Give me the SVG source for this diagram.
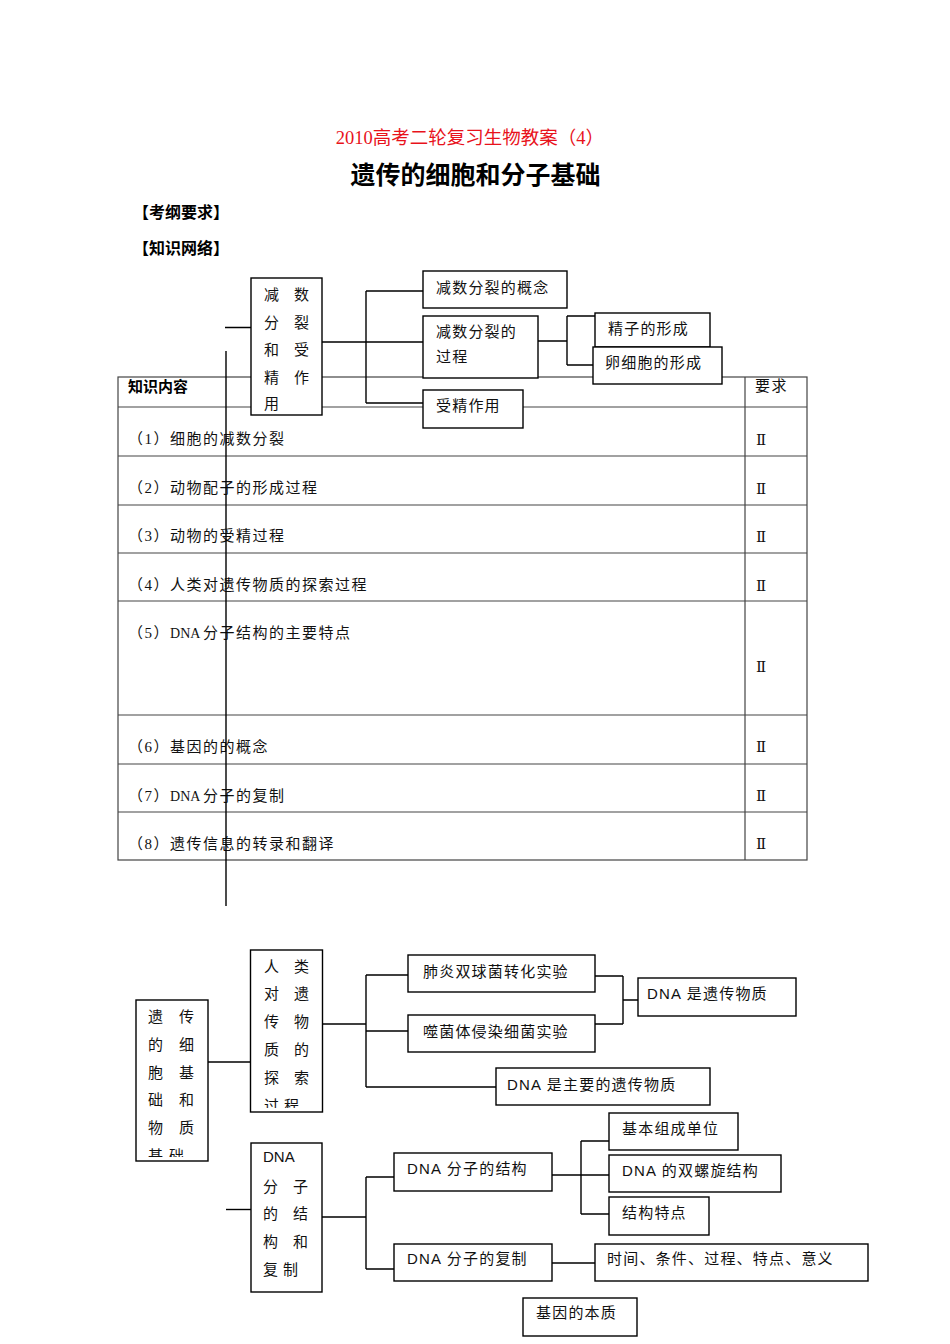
<svg xmlns="http://www.w3.org/2000/svg" width="950" height="1344" viewBox="0 0 950 1344">
<style>
.bg{fill:#fff}
.box{fill:#fff;stroke:#000;stroke-width:1.4}
.cn{fill:none;stroke:#000;stroke-width:1.4}
.tb{fill:none;stroke:#444;stroke-width:1.2}
.t{font-family:"Liberation Serif","Noto Sans CJK SC",serif;font-size:15px;letter-spacing:1.5px;fill:#111}
.r{font-family:"DejaVu Serif","Liberation Serif",serif;font-size:15px;fill:#111}
.d{letter-spacing:0;font-size:14px}
.s{font-family:"Liberation Sans","Noto Sans CJK SC",sans-serif;font-size:15px;letter-spacing:1.2px;fill:#111}
.v{font-family:"Liberation Sans","Noto Sans CJK SC",sans-serif;font-size:15px;fill:#111}
.h{font-family:"Liberation Sans","Noto Sans CJK SC",sans-serif;font-weight:bold;fill:#000}
</style>
<defs>
<clipPath id="c7"><rect x="136" y="1000" width="72" height="157"/></clipPath>
<clipPath id="c8"><rect x="250" y="950" width="73" height="158"/></clipPath>
</defs>
<rect class="bg" x="0" y="0" width="950" height="1344"/>

<g id="header">
<text x="470" y="144" text-anchor="middle" font-family="'Liberation Serif','Noto Sans CJK SC',serif" font-size="18.5" fill="#e8121b">2010高考二轮复习生物教案（4）</text>
<text class="h" x="475.5" y="184" text-anchor="middle" font-size="25">遗传的细胞和分子基础</text>
<text class="h" x="133" y="218" font-size="16">【考纲要求】</text>
<text class="h" x="133" y="254" font-size="16">【知识网络】</text>
</g>

<g id="table">
<rect class="tb" x="118" y="377" width="689" height="483"/>
<path class="tb" d="M745,377V860M118,407H807M118,456H807M118,505H807M118,553H807M118,601H807M118,715H807M118,764H807M118,812H807"/>
<text class="h" x="128" y="392" font-size="15">知识内容</text>
<text class="t" x="755" y="391">要求</text>
<text class="t" x="128" y="444">（1）细胞的减数分裂</text>
<text class="t" x="128" y="493">（2）动物配子的形成过程</text>
<text class="t" x="128" y="541">（3）动物的受精过程</text>
<text class="t" x="128" y="590">（4）人类对遗传物质的探索过程</text>
<text class="t" x="128" y="638">（5）<tspan class="d">DNA </tspan>分子结构的主要特点</text>
<text class="t" x="128" y="752">（6）基因的的概念</text>
<text class="t" x="128" y="801">（7）<tspan class="d">DNA </tspan>分子的复制</text>
<text class="t" x="128" y="849">（8）遗传信息的转录和翻译</text>
<text class="r" x="756" y="445">Ⅱ</text>
<text class="r" x="756" y="494">Ⅱ</text>
<text class="r" x="756" y="542">Ⅱ</text>
<text class="r" x="756" y="591">Ⅱ</text>
<text class="r" x="756" y="672">Ⅱ</text>
<text class="r" x="756" y="752">Ⅱ</text>
<text class="r" x="756" y="801">Ⅱ</text>
<text class="r" x="756" y="849">Ⅱ</text>
</g>

<g id="connectors">
<path class="cn" d="M225,327.5H251M226,351V906"/>
<path class="cn" d="M322,342H366M366,291V403M366,291H423M366,342H423M366,403H423"/>
<path class="cn" d="M538,341H567M567,316V365M567,316H595M567,365H593"/>
<path class="cn" d="M208,1062H251"/>
<path class="cn" d="M322,1024H366M366,975V1087M366,975H408M366,1031H408M366,1087H496"/>
<path class="cn" d="M595,976H623M595,1024H623M623,976V1024M623,1000H638"/>
<path class="cn" d="M226,1209.5H251"/>
<path class="cn" d="M322,1217H366M366,1177V1269M366,1177H394M366,1269H394"/>
<path class="cn" d="M552,1175H609M581,1141V1214M581,1141H609M581,1214H609"/>
<path class="cn" d="M552,1263H595"/>
</g>

<g id="n1">
<rect class="box" x="251" y="278" width="71" height="137"/>
<text class="v" x="264 294" y="300">减数</text>
<text class="v" x="264 294" y="328">分裂</text>
<text class="v" x="264 294" y="355">和受</text>
<text class="v" x="264 294" y="383">精作</text>
<text class="v" x="264" y="409">用</text>
</g>
<g id="n2"><rect class="box" x="423" y="271" width="144" height="37"/><text class="s" x="436" y="293">减数分裂的概念</text></g>
<g id="n3"><rect class="box" x="423" y="316" width="115" height="62"/><text class="s" x="436" y="337" letter-spacing="3">减数分裂的</text><text class="s" x="436" y="362">过程</text></g>
<g id="n4"><rect class="box" x="423" y="390" width="100" height="38"/><text class="s" x="436" y="411">受精作用</text></g>
<g id="n5"><rect class="box" x="595" y="313" width="115" height="34"/><text class="s" x="608" y="334">精子的形成</text></g>
<g id="n6"><rect class="box" x="593" y="347" width="129" height="37"/><text class="s" x="605" y="368">卵细胞的形成</text></g>

<g id="n7">
<rect class="box" x="136" y="1000" width="72" height="161"/>
<g clip-path="url(#c7)">
<text class="v" x="148 179" y="1022">遗传</text>
<text class="v" x="148 179" y="1050">的细</text>
<text class="v" x="148 179" y="1078">胞基</text>
<text class="v" x="148 179" y="1105">础和</text>
<text class="v" x="148 179" y="1133">物质</text>
<text class="v" x="148 169" y="1161">基础</text>
</g>
</g>
<g id="n8">
<rect class="box" x="250.5" y="950" width="72" height="162"/>
<g clip-path="url(#c8)">
<text class="v" x="264 294" y="972">人类</text>
<text class="v" x="264 294" y="999">对遗</text>
<text class="v" x="264 294" y="1027">传物</text>
<text class="v" x="264 294" y="1055">质的</text>
<text class="v" x="264 294" y="1083">探索</text>
<text class="v" x="264 284" y="1111">过程</text>
</g>
</g>
<g id="n9"><rect class="box" x="408" y="955" width="187" height="37"/><text class="s" x="423" y="977">肺炎双球菌转化实验</text></g>
<g id="n10"><rect class="box" x="408" y="1015" width="187" height="37"/><text class="s" x="423" y="1037">噬菌体侵染细菌实验</text></g>
<g id="n11"><rect class="box" x="638" y="978" width="158" height="38"/><text class="s" x="647" y="999">DNA 是遗传物质</text></g>
<g id="n12"><rect class="box" x="496" y="1068" width="214" height="37"/><text class="s" x="507" y="1090">DNA 是主要的遗传物质</text></g>
<g id="n13">
<rect class="box" x="251" y="1143" width="71" height="149"/>
<text class="v" x="263" y="1162">DNA</text>
<text class="v" x="263 293" y="1192">分子</text>
<text class="v" x="263 293" y="1219">的结</text>
<text class="v" x="263 293" y="1247">构和</text>
<text class="v" x="263 283" y="1275">复制</text>
</g>
<g id="n14"><rect class="box" x="394" y="1153" width="158" height="38"/><text class="s" x="407" y="1174">DNA 分子的结构</text></g>
<g id="n15"><rect class="box" x="394" y="1244" width="158" height="37"/><text class="s" x="407" y="1264">DNA 分子的复制</text></g>
<g id="n16"><rect class="box" x="609" y="1113" width="129" height="37"/><text class="s" x="622" y="1134">基本组成单位</text></g>
<g id="n17"><rect class="box" x="609" y="1155" width="172" height="37"/><text class="s" x="622" y="1176">DNA 的双螺旋结构</text></g>
<g id="n18"><rect class="box" x="609" y="1197" width="100" height="38"/><text class="s" x="622" y="1218">结构特点</text></g>
<g id="n19"><rect class="box" x="595" y="1244" width="273" height="37"/><text class="s" x="607" y="1264">时间、条件、过程、特点、意义</text></g>
<g id="n20"><rect class="box" x="523" y="1298" width="114" height="38"/><text class="s" x="536" y="1318">基因的本质</text></g>
</svg>
